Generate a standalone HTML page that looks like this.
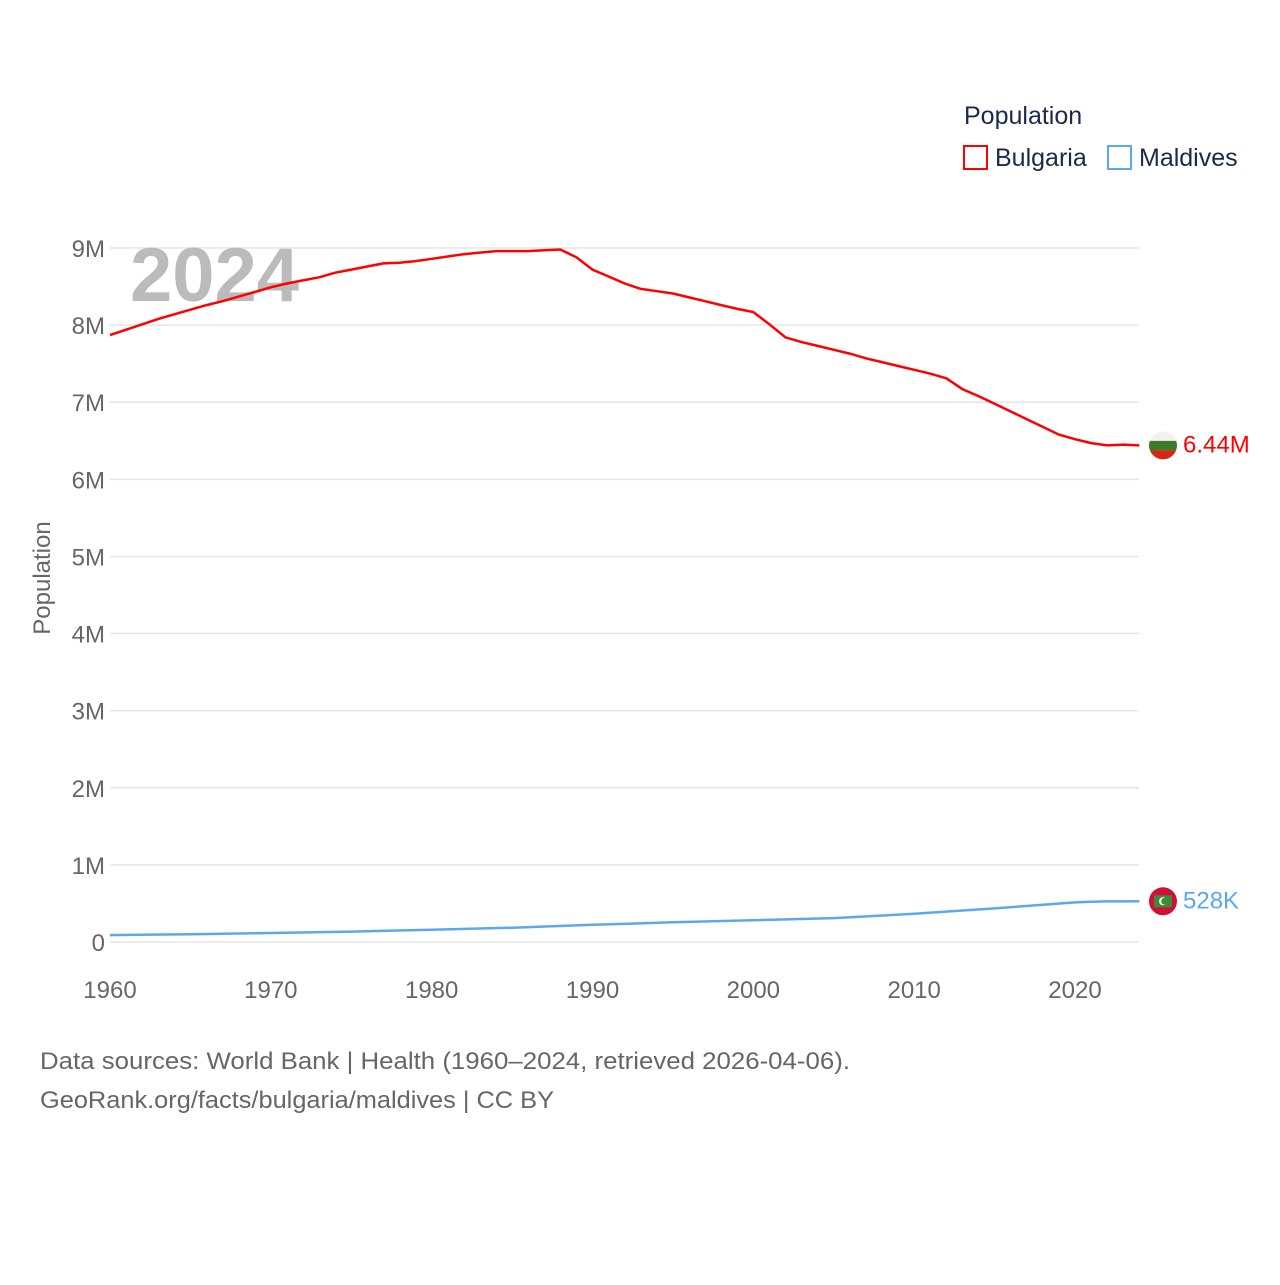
<!DOCTYPE html>
<html><head><meta charset="utf-8"><style>
body{margin:0;background:#fff;}
svg text{font-family:"Liberation Sans",sans-serif;}
</style></head><body>
<svg id="chart" width="1280" height="1280" viewBox="0 0 1280 1280">
<g id="grid"></g>
<g id="yticks"></g>
<g id="xticks"></g>
<text x="50" y="578" transform="rotate(-90 50 578)" text-anchor="middle" font-size="24" fill="#666">Population</text>
<text x="130" y="301" font-size="76" font-weight="bold" fill="#bbb">2024</text>
<g id="lines"></g>
<g>
<text x="964" y="124" font-size="25" fill="#1a2a4a">Population</text>
<g><rect x="964" y="146" width="23" height="23" fill="none" stroke="#ff0000" stroke-width="2"/><text x="995" y="166" font-size="25" fill="#1a2a4a">Bulgaria</text></g>
<g><rect x="1108" y="146" width="23" height="23" fill="none" stroke="#5ca8f0" stroke-width="2"/><text x="1139" y="166" font-size="25" fill="#1a2a4a">Maldives</text></g>
</g>
<text x="40" y="1069" font-size="24" fill="#666" textLength="810" lengthAdjust="spacingAndGlyphs">Data sources: World Bank | Health (1960–2024, retrieved 2026-04-06).</text>
<text x="40" y="1108" font-size="24" fill="#666" textLength="514" lengthAdjust="spacingAndGlyphs">GeoRank.org/facts/bulgaria/maldives | CC BY</text>
</svg>
<script>
const bgYears=[1960,1961,1962,1963,1964,1965,1966,1967,1968,1969,1970,1971,1972,1973,1974,1975,1976,1977,1978,1979,1980,1981,1982,1983,1984,1985,1986,1987,1988,1989,1990,1991,1992,1993,1994,1995,1996,1997,1998,1999,2000,2001,2002,2003,2004,2005,2006,2007,2008,2009,2010,2011,2012,2013,2014,2015,2016,2017,2018,2019,2020,2021,2022,2023,2024];
const bgValues=[7.87,7.94,8.01,8.08,8.14,8.20,8.26,8.31,8.37,8.43,8.49,8.54,8.58,8.62,8.68,8.72,8.76,8.80,8.81,8.83,8.86,8.89,8.92,8.94,8.96,8.96,8.96,8.97,8.98,8.88,8.72,8.63,8.54,8.47,8.44,8.41,8.36,8.31,8.26,8.21,8.17,8.01,7.84,7.78,7.73,7.68,7.63,7.57,7.52,7.47,7.42,7.37,7.31,7.17,7.08,6.98,6.88,6.78,6.68,6.58,6.52,6.47,6.44,6.45,6.44];
const mvYears=[1960,1965,1970,1975,1980,1985,1990,1995,2000,2005,2010,2015,2020,2021,2022,2023,2024];
const mvValues=[0.090,0.101,0.117,0.135,0.158,0.186,0.223,0.256,0.283,0.310,0.366,0.436,0.514,0.521,0.526,0.527,0.528];
const yTicks=[0,1,2,3,4,5,6,7,8,9];
const yTickLabels=["0","1M","2M","3M","4M","5M","6M","7M","8M","9M"];
const xTicks=[1960,1970,1980,1990,2000,2010,2020];
const lastLabels=["6.44M","528K"];
const NS="http://www.w3.org/2000/svg";
const X=y=>110+(y-1960)*(1075-110)/60;
const Y=v=>942-v*(942-248)/9;
function mk(tag,attrs,parent,txt){const e=document.createElementNS(NS,tag);for(const k in attrs)e.setAttribute(k,attrs[k]);if(txt!==undefined)e.textContent=txt;parent.appendChild(e);return e;}
const grid=document.getElementById('grid'),yt=document.getElementById('yticks'),xt=document.getElementById('xticks'),lines=document.getElementById('lines');
yTicks.forEach((v,i)=>{
 const l=mk('line',{x1:110,x2:1139,y1:Y(v),y2:Y(v),stroke:'#e6e6e6','stroke-width':1.5},grid);
 
 
 const t=mk('text',{x:105,y:Y(v)+9,'text-anchor':'end','font-size':24,fill:'#666'},yt,yTickLabels[i]);
 
 
});
xTicks.forEach(v=>{
 const t=mk('text',{x:X(v),y:998,'text-anchor':'middle','font-size':24,fill:'#666'},xt,String(v));
 
 
});
function path(xs,vs){return xs.map((y,i)=>(i?'L':'M')+X(y).toFixed(1)+','+Y(vs[i]).toFixed(1)).join('');}
const p1=mk('path',{d:path(bgYears,bgValues),fill:'none',stroke:'#ff0000','stroke-width':2.5},lines);


const p2=mk('path',{d:path(mvYears,mvValues),fill:'none',stroke:'#5ca8f0','stroke-width':2.5},lines);


const by=Y(bgValues[bgValues.length-1]), my=Y(mvValues[mvValues.length-1]);
const cx=1163;
const g1=mk('g',{},lines);


mk('clipPath',{id:'c1'},g1);mk('circle',{cx:cx,cy:by,r:14},g1.lastChild);
const gg=mk('g',{'clip-path':'url(#c1)'},g1);
mk('rect',{x:cx-14,y:by-14,width:28,height:10,fill:'#f2f2f2'},gg);
mk('rect',{x:cx-14,y:by-4.5,width:28,height:9.5,fill:'#3d7a2a'},gg);
mk('rect',{x:cx-14,y:by+5,width:28,height:10,fill:'#d62612'},gg);
const t1=mk('text',{x:1183,y:by+7,'font-size':24,fill:'#ff0000'},lines,lastLabels[0]);


const g2=mk('g',{},lines);


mk('circle',{cx:cx,cy:my,r:14,fill:'#d21034'},g2);
mk('rect',{x:cx-9,y:my-6,width:18,height:12,fill:'#3d8a3a'},g2);
mk('circle',{cx:cx,cy:my,r:4,fill:'#fff'},g2);
mk('circle',{cx:cx+1.6,cy:my,r:3.4,fill:'#3d8a3a'},g2);
const t2=mk('text',{x:1183,y:my+7,'font-size':24,fill:'#5ca8f0'},lines,lastLabels[1]);


</script>
</body></html>
